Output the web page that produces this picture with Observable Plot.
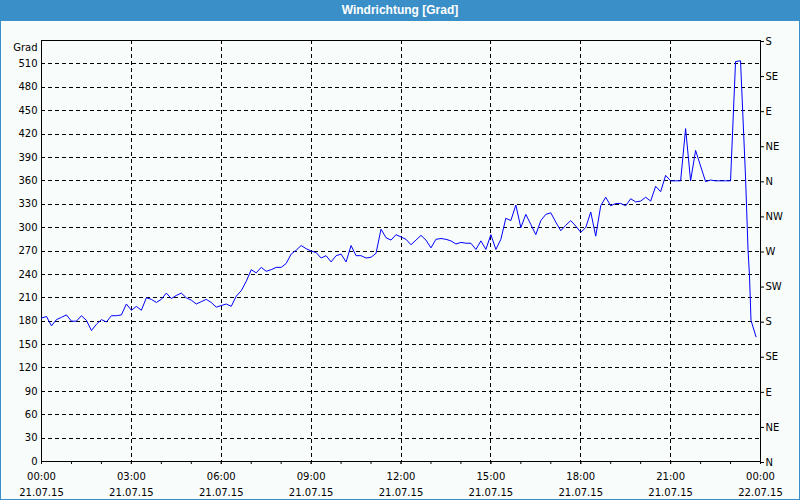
<!DOCTYPE html>
<html><head><meta charset="utf-8">
<script src="https://cdn.jsdelivr.net/npm/d3@7"></script>
<script src="https://cdn.jsdelivr.net/npm/@observablehq/plot@0.6"></script>
<style>
html,body{margin:0;padding:0;background:#fff;}
#wrap{position:relative;width:800px;height:500px;background:#f8fcfb;overflow:hidden;}
#title{position:absolute;left:0;top:0;width:800px;height:21px;background:#3b8fc8;color:#fff;font:bold 12px "Liberation Sans",Arial,sans-serif;text-align:center;line-height:21px;}
#chart{position:absolute;left:0;top:20px;}
#border{position:absolute;left:0;top:0;width:800px;height:500px;box-sizing:border-box;border:1px solid #3b8fc8;border-top:none;pointer-events:none;}
</style></head>
<body>
<div id="wrap">
  <div id="title">Windrichtung [Grad]</div>
  <div id="chart"></div>
  <div id="border"></div>
</div>
<script>
// Wind direction readings every 10 minutes from 00:00 (21.07.15)
const regularValues = [
  184,186,174,182,185,188,180,180,187,181,
  168,176,182,179,187,187,188,202,194,199,
  194,210,208,204,208,216,209,213,216,210,
  207,202,205,208,204,198,200,202,199,212,
  219,231,246,242,249,244,246,249,249,254,
  266,271,277,273,270,268,261,264,256,264,
  266,256,277,264,264,261,262,267,298,287,
  284,291,288,285,278,284,290,284,274,285,
  286,285,283,279,281,280,280,272,283,272,
  291,272,285,312,309,329,300,317,304,291,
  309,317,319,307,296,303,309,302,294,300,
  320,289,328,339,328,331,331,328,337,333,
  334,339,334,353,346,367,360,360,360,427,
  360,399,379,359,361,360,360,360,360,513,
  514
];
// Irregular readings at the end of the day (minutes after 00:00)
const tailMinutes = [1410, 1415, 1418, 1421, 1431];
const tailValues = [365, 272, 238, 181, 160];

const timeLabels = ["00:00","03:00","06:00","09:00","12:00","15:00","18:00","21:00","00:00"];
const dateLabels = ["21.07.15","21.07.15","21.07.15","21.07.15","21.07.15","21.07.15","21.07.15","21.07.15","22.07.15"];
const compass = ["N","NE","E","SE","S","SW","W","NW"];

const minutes = d3.range(0, regularValues.length * 10, 10).concat(tailMinutes);
const values = regularValues.concat(tailValues);
const data = minutes.map((t, i) => ({t, v: values[i]}));

const majorTicks = d3.range(0, 1441, 180);
const hourTicks = d3.range(0, 1441, 60);
const leftTicks = d3.range(0, 511, 30);
const rightTicks = d3.range(0, 541, 45);
const gridYTicks = d3.range(30, 511, 30);
const gridXTicks = d3.range(180, 1261, 180);

const chart = Plot.plot({
  width: 800,
  height: 480,
  marginLeft: 41,
  marginRight: 40,
  marginTop: 20,
  marginBottom: 39,
  style: {fontFamily: "DejaVu Sans, sans-serif", fontSize: "10px", color: "#000", background: "transparent"},
  x: {domain: [0, 1440]},
  y: {domain: [0, 540]},
  marks: [
    Plot.gridY(gridYTicks, {stroke: "#000", strokeOpacity: 1, strokeDasharray: "4,3", shapeRendering: "crispEdges"}),
    Plot.gridX(gridXTicks, {stroke: "#000", strokeOpacity: 1, strokeDasharray: "4,3", shapeRendering: "crispEdges"}),
    Plot.frame({stroke: "#000", shapeRendering: "crispEdges"}),
    Plot.axisY(leftTicks, {anchor: "left", tickSize: 0, tickPadding: 4, label: null}),
    Plot.axisY(rightTicks, {anchor: "right", tickSize: 3, tickPadding: 2, dy: 1, label: null,
      tickFormat: d => compass[(d / 45) % 8]}),
    Plot.axisX(hourTicks, {anchor: "bottom", tickSize: 3, tickFormat: () => "", label: null}),
    Plot.axisX(majorTicks, {anchor: "bottom", tickSize: 3, tickPadding: 4, label: null, lineHeight: 1.6,
      tickFormat: d => timeLabels[d / 180] + "\n" + dateLabels[d / 180]}),
    Plot.line(data, {x: "t", y: "v", stroke: "#0000ff", strokeWidth: 1}),
    Plot.text(["Grad"], {frameAnchor: "top-left", textAnchor: "end", lineAnchor: "middle", dx: -4, dy: 7, fill: "#000"})
  ]
});
document.getElementById("chart").appendChild(chart);
</script>
</body></html>
